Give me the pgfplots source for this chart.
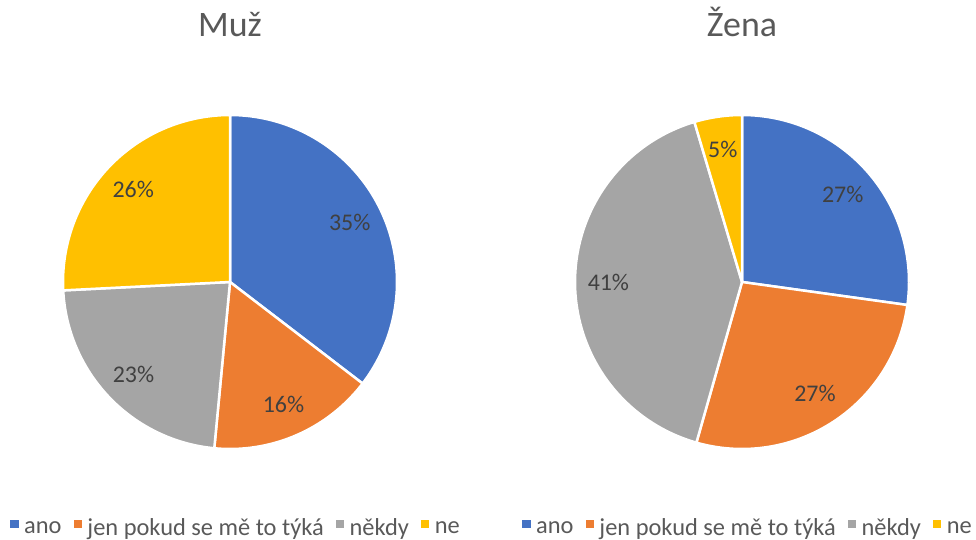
\documentclass[border=0pt]{standalone}
\usepackage{fontspec}
\setmainfont{Carlito}
\usepackage{pgfplots}
\usepackage{pgfplotstable}
\pgfplotsset{compat=1.18}

\definecolor{c0}{HTML}{4472C4}
\definecolor{c1}{HTML}{ED7D31}
\definecolor{c2}{HTML}{A5A5A5}
\definecolor{c3}{HTML}{FFC000}
\definecolor{lbl}{HTML}{404040}
\definecolor{ttl}{HTML}{595959}

\newcommand\lblfont{\fontsize{24}{28}\selectfont}
\newcommand\legfont{\fontsize{24.5}{28}\selectfont}
\newcommand\titlefont{\fontsize{36}{42}\selectfont}

% share of each answer, percent
\pgfplotstableread{
label v
ano 35.4
jen 16.1
nekdy 22.7
ne 25.8
}\muz
\pgfplotstableread{
label v
ano 27.2
jen 27.2
nekdy 41.0
ne 4.6
}\zena

% slices clockwise from 12 o'clock
\newcommand\pieslices[1]{%
  \def\cum{0}%
  \pgfplotsforeachungrouped \i in {0,1,2,3}{%
    \pgfplotstablegetelem{\i}{v}\of{#1}%
    \let\val=\pgfplotsretval
    \pgfmathsetmacro\a{90-3.6*\cum}%
    \pgfmathsetmacro\b{90-3.6*(\cum+\val)}%
    \pgfmathsetmacro\m{(\a+\b)/2}%
    \pgfmathsetmacro\lx{0.8*cos(\m)}%
    \pgfmathsetmacro\ly{0.8*sin(\m)}%
    \edef\tmp{%
      \noexpand\addplot[forget plot, fill=c\i, draw=white, line width=2.5bp,
        line join=round, domain=\b:\a, samples=90]
        ({cos(x)},{sin(x)}) -- (axis cs:0,0) -- cycle;
      \noexpand\node[text=lbl, font=\noexpand\lblfont] at (axis cs:\lx,\ly)
        {\noexpand\pgfmathprintnumber[fixed,precision=0,assume math mode=true]{\val}\noexpand\%};
    }%
    \tmp
    \pgfmathsetmacro\cum{\cum+\val}%
  }%
}

\pgfplotsset{
  pie/.style={
    hide axis, scale only axis, width=334bp, height=334bp,
    xmin=-1, xmax=1, ymin=-1, ymax=1, anchor=center,
    title style={font=\titlefont, text=ttl, at={(0.5,1.2186)}, anchor=base},
    legend columns=4,
    legend style={draw=none, fill=none, font=\legfont, text=ttl,
      at={(0.518,-0.237)}, anchor=center,
      /tikz/every odd column/.append style={column sep=4bp},
      /tikz/every even column/.append style={column sep=10bp}},
    legend cell align=left,
    legend entries={ano, jen pokud se mě to týká, někdy, ne},
  },
  sq/.style={legend image code/.code={\fill[#1] (0bp,0.5bp) rectangle (7.5bp,8bp);}},
}

\begin{document}
\begin{tikzpicture}
\useasboundingbox (0,0) rectangle (976bp,540bp);
\begin{axis}[pie, at={(230bp,258bp)}, title={Muž}]
\addlegendimage{sq=c0}
\addlegendimage{sq=c1}
\addlegendimage{sq=c2}
\addlegendimage{sq=c3}
\pieslices{\muz}
\end{axis}
\begin{axis}[pie, at={(742bp,258bp)}, title={Žena}]
\addlegendimage{sq=c0}
\addlegendimage{sq=c1}
\addlegendimage{sq=c2}
\addlegendimage{sq=c3}
\pieslices{\zena}
\end{axis}
\end{tikzpicture}
\end{document}
